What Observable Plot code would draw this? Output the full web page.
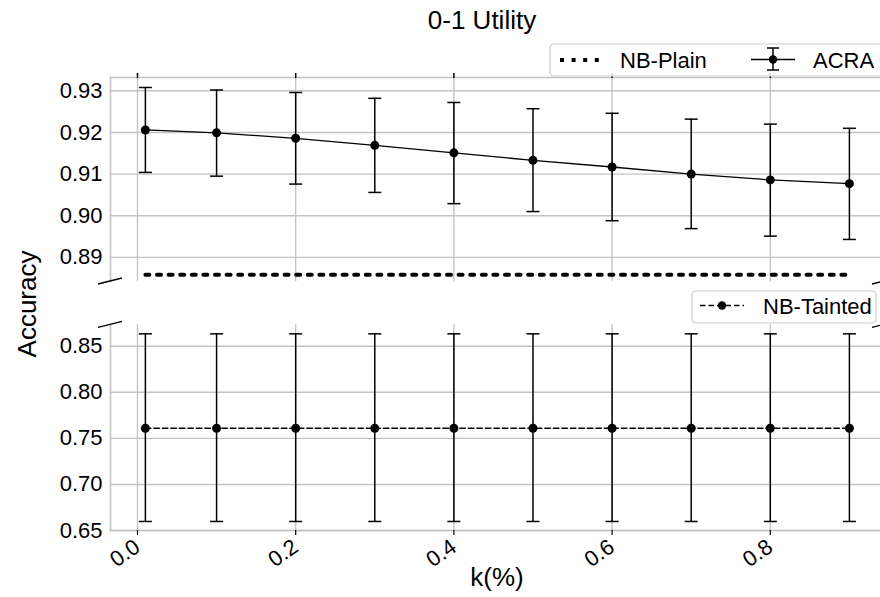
<!DOCTYPE html>
<html>
<head>
<meta charset="utf-8">
<script src="https://cdn.jsdelivr.net/npm/d3@7"></script>
<script src="https://cdn.jsdelivr.net/npm/@observablehq/plot@0.6"></script>
<style>
  html, body { margin: 0; padding: 0; background: #fff; overflow: hidden; }
  #wrap { position: relative; width: 880px; height: 597px; font-family: "Liberation Sans", Arial, sans-serif; }
  #wrap > svg, #wrap > div { position: absolute; left: 0; }
</style>
</head>
<body>
<div id="wrap"></div>
<script>
// ---- data ----
const kValues   = [0.01, 0.1, 0.2, 0.3, 0.4, 0.5, 0.6, 0.7, 0.8, 0.9];
const acraMean  = [0.9206, 0.9199, 0.9186, 0.9169, 0.9151, 0.9133, 0.9117, 0.9100, 0.9086, 0.9077];
const acraLow   = [0.9104, 0.9095, 0.9076, 0.9056, 0.9029, 0.9010, 0.8988, 0.8969, 0.8951, 0.8943];
const acraHigh  = [0.9308, 0.9302, 0.9296, 0.9282, 0.9272, 0.9257, 0.9246, 0.9232, 0.9220, 0.9210];
const nbPlain   = [0.8858, 0.8858, 0.8858, 0.8858, 0.8858, 0.8858, 0.8858, 0.8858, 0.8858, 0.8858];
const nbTaintedMean = [0.761, 0.761, 0.761, 0.761, 0.761, 0.761, 0.761, 0.761, 0.761, 0.761];
const nbTaintedLow  = [0.6598, 0.6598, 0.6598, 0.6598, 0.6598, 0.6598, 0.6598, 0.6598, 0.6598, 0.6598];
const nbTaintedHigh = [0.8635, 0.8635, 0.8635, 0.8635, 0.8635, 0.8635, 0.8635, 0.8635, 0.8635, 0.8635];
const xTicks      = [0.0, 0.2, 0.4, 0.6, 0.8];
const topYTicks   = [0.89, 0.90, 0.91, 0.92, 0.93];
const bottomYTicks = [0.65, 0.70, 0.75, 0.80, 0.85];
const titleText = "0-1 Utility";
const xLabel = "k(%)";
const yLabel = "Accuracy";
const seriesNames = ["NB-Plain", "ACRA", "NB-Tainted"];

// ---- tables ----
const acra = kValues.map((k, i) => ({k, y: acraMean[i], lo: acraLow[i], hi: acraHigh[i]}));
const plain = kValues.map((k, i) => ({k, y: nbPlain[i]}));
const tainted = kValues.map((k, i) => ({k, y: nbTaintedMean[i], lo: nbTaintedLow[i], hi: nbTaintedHigh[i]}));

const FONT = '"Liberation Sans", Arial, sans-serif';
const GRID = "#c4c4c4";
const xDomain = [-0.0341, 0.9393];
const capSymbol = { draw(ctx) { ctx.moveTo(-6.5, 0); ctx.lineTo(6.5, 0); } };

function errorMarks(data, lineOpts) {
  return [
    Plot.ruleX(data, {x: "k", y1: "lo", y2: "hi", stroke: "black", strokeWidth: 1.5}),
    Plot.dot(data, {x: "k", y: "hi", symbol: capSymbol, stroke: "black", strokeWidth: 1.5, fill: "none"}),
    Plot.dot(data, {x: "k", y: "lo", symbol: capSymbol, stroke: "black", strokeWidth: 1.5, fill: "none"}),
    Plot.line(data, {x: "k", y: "y", stroke: "black", ...lineOpts}),
    Plot.dot(data, {x: "k", y: "y", r: 4.5, fill: "black", stroke: "none"})
  ];
}

const wrap = document.getElementById("wrap");

// top panel
const TOP_SVG_Y = 60, TOP_MT = 17, TOP_H = 230, TOP_MB = 9;
const topPlot = Plot.plot({
  width: 880, height: TOP_H,
  marginTop: TOP_MT, marginBottom: TOP_MB, marginLeft: 110, marginRight: 0,
  style: {fontFamily: FONT, fontSize: "22px", background: "transparent", overflow: "visible", color: "black"},
  x: {domain: xDomain},
  y: {domain: [0.8842, 0.9332]},
  marks: [
    Plot.gridX(xTicks, {stroke: GRID, strokeOpacity: 1, strokeWidth: 1.4}),
    Plot.gridY(topYTicks, {stroke: GRID, strokeOpacity: 1, strokeWidth: 1.4}),
    Plot.frame({anchor: "left", stroke: GRID, strokeWidth: 1.6}),
    Plot.frame({anchor: "top", stroke: GRID, strokeWidth: 1.6}),
    Plot.axisX({anchor: "top", ticks: xTicks, tickSize: 5, tickFormat: () => "", label: null, strokeWidth: 1.5}),
    Plot.axisY({ticks: topYTicks, tickSize: 0, tickPadding: 8, tickFormat: d3.format(".2f"), label: null, fontSize: 22}),
    Plot.line(plain, {x: "k", y: "y", stroke: "black", strokeWidth: 4, strokeDasharray: "4,7.6"}),
    ...errorMarks(acra, {strokeWidth: 1.3})
  ]
});
topPlot.style.top = TOP_SVG_Y + "px";
topPlot.style.position = "absolute";
wrap.appendChild(topPlot);

// bottom panel
const BOT_SVG_Y = 300, BOT_MT = 24.3, BOT_H = 297, BOT_MB = 67;
const botPlot = Plot.plot({
  width: 880, height: BOT_H,
  marginTop: BOT_MT, marginBottom: BOT_MB, marginLeft: 110, marginRight: 0,
  style: {fontFamily: FONT, fontSize: "22px", background: "transparent", overflow: "visible", color: "black"},
  x: {domain: xDomain},
  y: {domain: [0.65, 0.8733]},
  marks: [
    Plot.gridX(xTicks, {stroke: GRID, strokeOpacity: 1, strokeWidth: 1.4}),
    Plot.gridY(bottomYTicks, {stroke: GRID, strokeOpacity: 1, strokeWidth: 1.4}),
    Plot.frame({anchor: "left", stroke: GRID, strokeWidth: 1.6}),
    Plot.frame({anchor: "bottom", stroke: GRID, strokeWidth: 1.6}),
    Plot.axisX({anchor: "bottom", ticks: xTicks, tickSize: 5, tickPadding: 9, tickRotate: -35,
                tickFormat: d3.format(".1f"), label: null, fontSize: 22, strokeWidth: 1.2}),
    Plot.axisY({ticks: bottomYTicks, tickSize: 0, tickPadding: 8, tickFormat: d3.format(".2f"), label: null, fontSize: 22}),
    ...errorMarks(tainted, {strokeWidth: 1.5, strokeDasharray: "5.5,3"})
  ]
});
botPlot.style.top = BOT_SVG_Y + "px";
botPlot.style.position = "absolute";
wrap.appendChild(botPlot);

// overlay: title, axis labels, legends, axis-break marks
const sxTop = topPlot.scale("x");
const leftEdge = sxTop.range[0];
const rightEdge = 884;
const topBottomY = TOP_SVG_Y + TOP_H - TOP_MB;
const botTopY = BOT_SVG_Y + BOT_MT;

const ov = d3.create("svg").attr("width", 880).attr("height", 597)
  .style("position", "absolute").style("top", "0px").style("left", "0px")
  .style("pointer-events", "none").style("overflow", "hidden")
  .attr("font-family", FONT);

ov.append("text").attr("x", 482).attr("y", 29).attr("text-anchor", "middle")
  .attr("font-size", 26).text(titleText);
ov.append("text").attr("x", 497).attr("y", 586).attr("text-anchor", "middle")
  .attr("font-size", 26).text(xLabel);
ov.append("text").attr("transform", "translate(36,304) rotate(-90)").attr("text-anchor", "middle")
  .attr("font-size", 26).text(yLabel);

// break marks
for (const cx of [leftEdge, rightEdge]) {
  for (const cy of [topBottomY, botTopY]) {
    ov.append("line").attr("x1", cx - 12).attr("y1", cy + 3).attr("x2", cx + 12).attr("y2", cy - 3)
      .attr("stroke", "black").attr("stroke-width", 1.3);
  }
}

// top legend
const lg1 = ov.append("g");
lg1.append("rect").attr("x", 550).attr("y", 44).attr("width", 345).attr("height", 32).attr("rx", 4)
  .attr("fill", "white").attr("fill-opacity", 0.85).attr("stroke", "#cccccc").attr("stroke-width", 1.2);
lg1.append("line").attr("x1", 560).attr("x2", 602).attr("y1", 60).attr("y2", 60)
  .attr("stroke", "black").attr("stroke-width", 4).attr("stroke-dasharray", "4,7.6");
lg1.append("text").attr("x", 620).attr("y", 68).attr("font-size", 22).text(seriesNames[0]);
lg1.append("line").attr("x1", 751).attr("x2", 795).attr("y1", 59.5).attr("y2", 59.5).attr("stroke", "black").attr("stroke-width", 1.3);
lg1.append("line").attr("x1", 773).attr("x2", 773).attr("y1", 48).attr("y2", 70).attr("stroke", "black").attr("stroke-width", 1.5);
lg1.append("line").attr("x1", 767).attr("x2", 779).attr("y1", 48).attr("y2", 48).attr("stroke", "black").attr("stroke-width", 1.5);
lg1.append("line").attr("x1", 767).attr("x2", 779).attr("y1", 70).attr("y2", 70).attr("stroke", "black").attr("stroke-width", 1.5);
lg1.append("circle").attr("cx", 773).attr("cy", 59.5).attr("r", 4.2).attr("fill", "black");
lg1.append("text").attr("x", 813).attr("y", 68).attr("font-size", 22).text(seriesNames[1]);

// bottom legend
const lg2 = ov.append("g");
lg2.append("rect").attr("x", 692).attr("y", 291).attr("width", 184).attr("height", 32).attr("rx", 4)
  .attr("fill", "white").attr("fill-opacity", 0.85).attr("stroke", "#cccccc").attr("stroke-width", 1.2);
lg2.append("line").attr("x1", 700).attr("x2", 744).attr("y1", 305.5).attr("y2", 305.5)
  .attr("stroke", "black").attr("stroke-width", 1.5).attr("stroke-dasharray", "5.5,3");
lg2.append("circle").attr("cx", 722).attr("cy", 305.5).attr("r", 4.2).attr("fill", "black");
lg2.append("text").attr("x", 763).attr("y", 313.5).attr("font-size", 22).text(seriesNames[2]);

wrap.appendChild(ov.node());
</script>
</body>
</html>
